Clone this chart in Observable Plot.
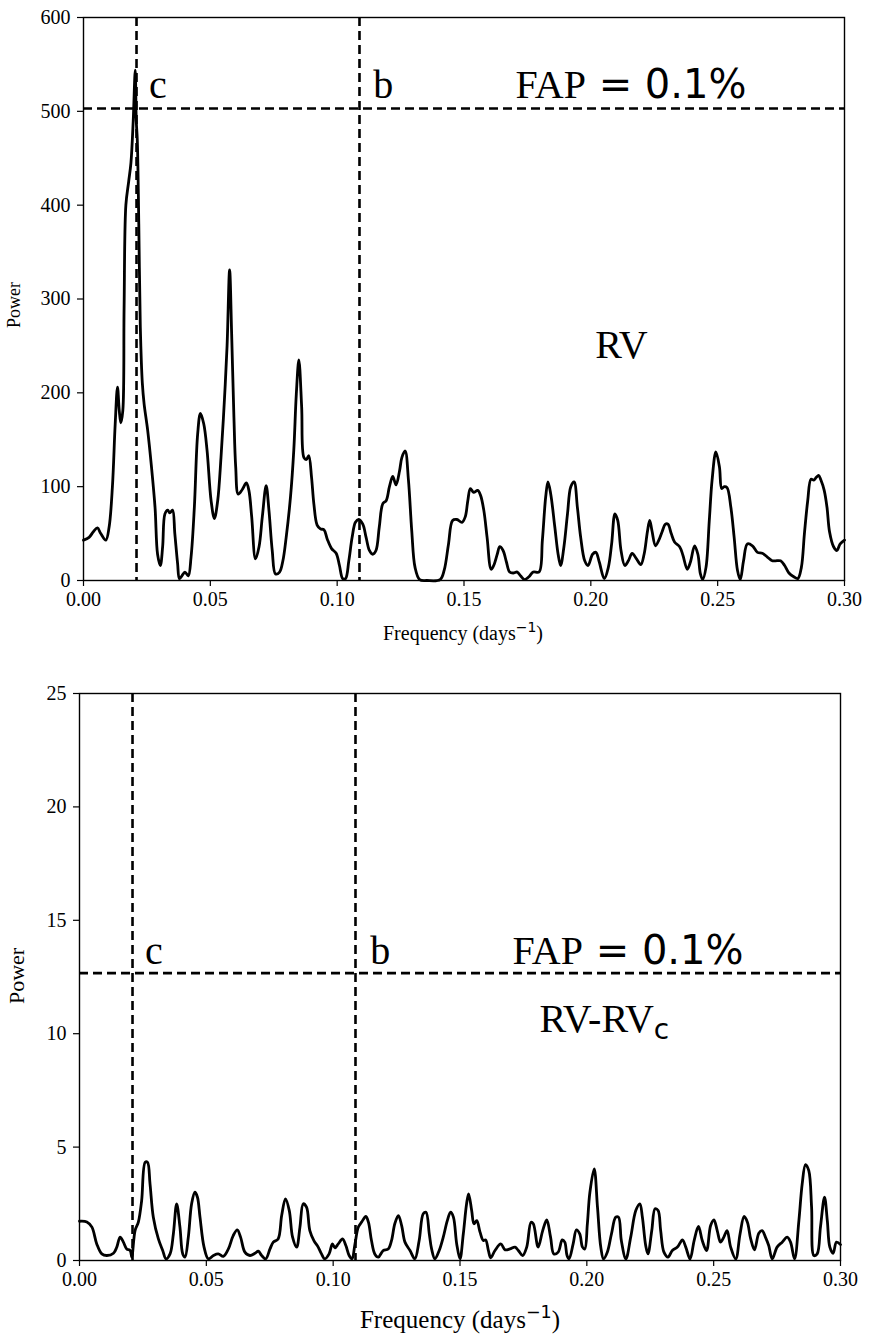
<!DOCTYPE html>
<html><head><meta charset="utf-8">
<script src="https://cdn.jsdelivr.net/npm/d3@7"></script>
<script src="https://cdn.jsdelivr.net/npm/@observablehq/plot@0.6"></script>
<style>
html,body{margin:0;padding:0;background:#fff;}
#chart svg{display:block;}
text{white-space:pre;}
</style></head><body><div id="chart"></div>
<script>
// ---------- DATA ----------
const rvFreq = [0.0000,0.0022,0.0039,0.0055,0.0068,0.0088,0.0101,0.0114,0.0125,0.0134,0.0141,0.0147,0.0155,0.0160,0.0167,0.0178,0.0187,0.0196,0.0204,0.0208,0.0212,0.0218,0.0224,0.0232,0.0239,0.0253,0.0268,0.0282,0.0292,0.0303,0.0312,0.0321,0.0332,0.0340,0.0351,0.0360,0.0371,0.0378,0.0388,0.0400,0.0413,0.0424,0.0437,0.0450,0.0461,0.0474,0.0487,0.0503,0.0516,0.0529,0.0542,0.0555,0.0566,0.0576,0.0584,0.0593,0.0600,0.0610,0.0626,0.0642,0.0652,0.0663,0.0678,0.0692,0.0705,0.0720,0.0731,0.0744,0.0757,0.0773,0.0786,0.0799,0.0816,0.0829,0.0839,0.0849,0.0860,0.0869,0.0879,0.0888,0.0899,0.0908,0.0921,0.0934,0.0948,0.0961,0.0978,0.0996,0.1009,0.1022,0.1033,0.1046,0.1059,0.1072,0.1085,0.1101,0.1114,0.1127,0.1140,0.1153,0.1166,0.1180,0.1193,0.1206,0.1219,0.1232,0.1246,0.1255,0.1268,0.1281,0.1294,0.1307,0.1325,0.1354,0.1406,0.1422,0.1439,0.1455,0.1472,0.1492,0.1505,0.1515,0.1525,0.1538,0.1554,0.1565,0.1578,0.1591,0.1607,0.1617,0.1631,0.1641,0.1654,0.1667,0.1680,0.1694,0.1710,0.1723,0.1739,0.1756,0.1773,0.1796,0.1809,0.1822,0.1831,0.1842,0.1858,0.1871,0.1881,0.1894,0.1908,0.1921,0.1934,0.1947,0.1960,0.1976,0.1989,0.2007,0.2020,0.2033,0.2053,0.2069,0.2082,0.2095,0.2106,0.2119,0.2134,0.2148,0.2163,0.2180,0.2197,0.2210,0.2223,0.2232,0.2241,0.2255,0.2268,0.2281,0.2294,0.2304,0.2317,0.2330,0.2350,0.2363,0.2380,0.2393,0.2409,0.2422,0.2432,0.2441,0.2454,0.2467,0.2478,0.2493,0.2507,0.2516,0.2526,0.2537,0.2552,0.2565,0.2578,0.2589,0.2602,0.2617,0.2637,0.2657,0.2676,0.2696,0.2715,0.2728,0.2748,0.2764,0.2781,0.2800,0.2816,0.2830,0.2842,0.2855,0.2868,0.2879,0.2889,0.2898,0.2907,0.2920,0.2931,0.2941,0.2957,0.2970,0.2983,0.3000];
const rvPower = [43,46,52,56,50,43,57,100,167,206,181,168,181,290,400,425,445,490,544,490,470,380,270,210,188,160,121,78,28,16,36,71,75,72,75,50,18,2,5,9,5,25,78,156,178,167,139,85,66,85,131,190,250,331,263,174,121,92,97,104,96,68,23,36,68,101,75,32,7,9,21,46,89,139,199,235,185,131,129,133,110,82,59,55,54,44,34,29,16,2,2,21,46,62,65,60,46,32,28,32,57,82,85,100,111,102,117,131,138,107,53,14,1,0,1,11,39,64,65,62,68,85,98,94,96,91,75,46,12,16,28,36,32,20,9,8,9,5,1,4,9,9,43,89,105,92,57,28,16,36,71,100,105,78,46,21,16,28,30,20,2,14,39,71,64,32,16,21,29,23,17,28,52,64,53,37,43,52,60,60,50,41,36,27,12,20,37,28,7,1,14,64,107,137,121,98,100,99,78,46,11,1,21,39,37,30,29,25,21,21,21,16,8,4,2,14,50,85,108,107,110,112,107,96,78,52,36,32,39,43];

const resFreq = [0.0000,0.0029,0.0049,0.0068,0.0088,0.0108,0.0134,0.0147,0.0160,0.0173,0.0186,0.0200,0.0206,0.0219,0.0232,0.0245,0.0259,0.0268,0.0278,0.0291,0.0311,0.0328,0.0341,0.0357,0.0370,0.0383,0.0396,0.0407,0.0416,0.0429,0.0442,0.0455,0.0465,0.0475,0.0491,0.0508,0.0528,0.0547,0.0567,0.0587,0.0606,0.0622,0.0635,0.0652,0.0672,0.0692,0.0705,0.0718,0.0734,0.0751,0.0764,0.0783,0.0797,0.0812,0.0827,0.0840,0.0856,0.0869,0.0882,0.0895,0.0908,0.0924,0.0941,0.0954,0.0967,0.0984,0.0997,0.1007,0.1020,0.1037,0.1050,0.1063,0.1074,0.1086,0.1099,0.1112,0.1129,0.1139,0.1151,0.1164,0.1178,0.1197,0.1217,0.1230,0.1243,0.1257,0.1270,0.1283,0.1303,0.1322,0.1339,0.1355,0.1366,0.1379,0.1388,0.1401,0.1418,0.1434,0.1450,0.1463,0.1474,0.1487,0.1500,0.1513,0.1526,0.1534,0.1546,0.1555,0.1566,0.1579,0.1592,0.1601,0.1612,0.1621,0.1638,0.1661,0.1678,0.1697,0.1717,0.1730,0.1747,0.1763,0.1780,0.1789,0.1808,0.1826,0.1842,0.1857,0.1870,0.1887,0.1903,0.1913,0.1922,0.1930,0.1946,0.1959,0.1972,0.1983,0.1992,0.2002,0.2012,0.2029,0.2042,0.2055,0.2066,0.2081,0.2097,0.2114,0.2125,0.2136,0.2154,0.2173,0.2193,0.2209,0.2219,0.2232,0.2241,0.2256,0.2269,0.2281,0.2291,0.2304,0.2320,0.2337,0.2357,0.2377,0.2390,0.2407,0.2423,0.2440,0.2455,0.2472,0.2488,0.2501,0.2514,0.2527,0.2540,0.2553,0.2567,0.2587,0.2604,0.2620,0.2633,0.2646,0.2661,0.2678,0.2691,0.2704,0.2717,0.2731,0.2750,0.2770,0.2790,0.2803,0.2819,0.2836,0.2849,0.2862,0.2875,0.2886,0.2895,0.2908,0.2921,0.2937,0.2948,0.2958,0.2971,0.2984,0.3000];
const resPower = [1.73,1.70,1.47,0.73,0.29,0.22,0.32,0.59,1.03,0.81,0.51,0.44,0.15,1.32,1.69,2.64,4.33,4.33,3.38,1.91,0.95,0.44,0.07,0.29,1.17,2.50,1.47,0.29,0.15,1.03,2.50,3.01,2.79,1.91,0.59,0.07,0.22,0.29,0.18,0.51,1.10,1.35,1.03,0.37,0.22,0.32,0.41,0.22,0.07,0.51,0.81,0.95,1.98,2.72,2.20,1.03,0.59,1.47,2.50,2.35,1.32,0.88,0.59,0.29,0.07,0.29,0.73,0.56,0.73,0.95,0.66,0.22,0.07,0.73,1.47,1.69,1.94,1.69,0.88,0.29,0.15,0.44,0.51,0.88,1.62,1.98,1.54,0.81,0.44,0.07,0.88,2.06,2.13,1.17,0.51,0.07,0.44,1.03,1.76,2.13,1.91,0.73,0.07,1.17,2.50,2.94,2.20,1.62,1.76,1.25,0.88,0.91,0.44,0.12,0.44,0.73,0.47,0.51,0.59,0.44,0.22,0.59,1.69,1.62,0.59,1.32,1.79,1.03,0.29,0.37,0.91,0.81,0.22,0.07,0.73,1.35,1.17,0.59,0.51,1.60,3.00,4.04,2.35,0.59,0.07,0.37,1.17,1.91,1.91,0.88,0.07,1.03,2.20,2.50,1.91,0.66,0.29,1.32,2.28,2.20,1.32,0.37,0.15,0.44,0.59,0.91,0.59,0.07,0.88,1.50,0.88,0.44,1.54,1.79,1.32,0.81,1.03,1.32,0.59,0.07,1.17,1.94,1.69,0.95,0.47,1.20,1.32,1.03,0.66,0.07,0.59,0.81,1.03,0.81,0.07,1.76,3.38,4.23,3.96,2.35,0.22,0.29,1.47,2.79,1.76,0.59,0.32,0.81,0.70];

const xTicks = [0, 0.05, 0.10, 0.15, 0.20, 0.25, 0.30];
const rvYTicks = [0, 100, 200, 300, 400, 500, 600];
const resYTicks = [0, 5, 10, 15, 20, 25];
const planetFreq = [0.0209, 0.1088];
const planetNames = ["c", "b"];
const rvFAP = 503;
const resFAP = 12.67;
const fapLabel = "FAP = 0.1%";
const rvLabel = "RV";
const resLabel = "RV-RVc";
const xLabel = "Frequency (days";
const yLabel = "Power";

// annotation anchor positions (data units)
const rvPlanetLabelX = [0.0258, 0.1142];
const rvPlanetLabelY = 528;
const rvFapX = 0.1703, rvFapY = 528;
const rvLabelX = 0.2121, rvLabelY = 251;
const resPlanetLabelX = [0.0258, 0.1146];
const resPlanetLabelY = 13.66;
const resFapX = 0.1707, resFapY = 13.66;
const resLabelX = 0.1813, resLabelY = 10.63;

const SERIF = "'Liberation Serif', 'Times New Roman', serif";
const SANS = "'DejaVu Sans', sans-serif";
const DASH = "9,5";

function rows(fs, ps) { return fs.map((f, i) => ({f, p: ps[i]})); }

function panel(o) {
  const svg = Plot.plot({
    width: 869, height: o.height,
    marginTop: o.mt, marginBottom: o.mb, marginLeft: o.ml, marginRight: o.mr,
    style: `font-family: ${SERIF}; font-size: ${o.tickFont}px; color: black; background: white;`,
    x: {domain: [0, 0.3]},
    y: {domain: o.ydomain},
    marks: [
      Plot.axisX({ticks: xTicks, tickFormat: d3.format(".2f"), tickSize: 6, tickPadding: 5, label: null,
        fontFamily: SERIF, fontSize: o.tickFont, fill: "black", stroke: "black", strokeWidth: 1.2}),
      Plot.axisY({ticks: o.yticks, tickSize: 6, tickPadding: 7, label: null,
        fontFamily: SERIF, fontSize: o.tickFont, fill: "black", stroke: "black", strokeWidth: 1.2}),
      Plot.ruleX(planetFreq, {x: d => d, stroke: "black", strokeWidth: 2.6, strokeDasharray: DASH}),
      Plot.ruleY([o.fap], {y: d => d, stroke: "black", strokeWidth: 2.6, strokeDasharray: DASH}),
      Plot.line(rows(o.fs, o.ps), {x: "f", y: "p", stroke: "black", strokeWidth: 2.8, curve: "catmull-rom", strokeLinejoin: "round"}),
      Plot.frame({stroke: "black", strokeWidth: 1.4}),
      Plot.text(planetNames, {x: (d, i) => o.plx[i], y: () => o.ply, text: d => d, textAnchor: "start", lineAnchor: "middle", fontFamily: SERIF, fontSize: 40, fill: "black"}),
      Plot.text([fapLabel], {x: () => o.fapX, y: () => o.fapY, text: d => d, textAnchor: "start", lineAnchor: "middle", fontFamily: SERIF, fontSize: 40, fill: "black"}),
      Plot.text([o.label], {x: () => o.lx, y: () => o.ly, text: d => d, textAnchor: o.lanchor, lineAnchor: "middle", fontFamily: SERIF, fontSize: 40, fill: "black"})
    ]
  });
  const s = d3.select(svg);
  // force serif tick labels on every numeric text
  s.selectAll("text").filter(function() { return /^[0-9.\u2212-]+$/.test(this.textContent.trim()); })
    .attr("font-family", SERIF).attr("font-size", o.tickFont)
    .style("font-family", SERIF).style("font-size", o.tickFont + "px");
  s.selectAll("text").filter(function() { return this.textContent === fapLabel; }).each(function() {
    const t = d3.select(this); t.text("");
    t.append("tspan").text("FAP");
    t.append("tspan").attr("font-family", SANS).text(" = 0.1%");
  });
  s.selectAll("text").filter(function() { return this.textContent === "RV-RVc"; }).each(function() {
    const t = d3.select(this); t.text("");
    t.append("tspan").text("RV-RV");
    t.append("tspan").attr("font-family", SANS).attr("font-size", 28).attr("dy", 7).text("c");
  });
  // x axis label with superscript
  const xl = s.append("text").attr("x", o.xlx).attr("y", o.xly).attr("text-anchor", "middle")
    .attr("font-family", SERIF).attr("font-size", o.xlSize).attr("fill", "black");
  xl.append("tspan").text(xLabel);
  xl.append("tspan").attr("font-family", SANS).attr("font-size", o.xlSize * 0.7).attr("dy", -o.xlSize * 0.4).text("\u22121");
  xl.append("tspan").attr("dy", o.xlSize * 0.4).text(")");
  // y axis label
  s.append("text").attr("transform", `translate(${o.ylx},${o.yly}) rotate(-90)`).attr("text-anchor", "middle")
    .attr("font-family", SERIF).attr("font-size", o.ylSize).attr("fill", "black").text(yLabel);
  return svg;
}

const chart = document.getElementById("chart");
chart.appendChild(panel({
  height: 650, mt: 17, mb: 70, ml: 83, mr: 25,
  ydomain: [0, 600], yticks: rvYTicks, fap: rvFAP, fs: rvFreq, ps: rvPower,
  plx: rvPlanetLabelX, ply: rvPlanetLabelY, fapX: rvFapX, fapY: rvFapY,
  label: rvLabel, lx: rvLabelX, ly: rvLabelY, lanchor: "middle",
  tickFont: 20, xlx: 463, xly: 640, xlSize: 20, ylx: 20, yly: 305, ylSize: 18
}));
chart.appendChild(panel({
  height: 686, mt: 43, mb: 76, ml: 79, mr: 29,
  ydomain: [0, 25], yticks: resYTicks, fap: resFAP, fs: resFreq, ps: resPower,
  plx: resPlanetLabelX, ply: resPlanetLabelY, fapX: resFapX, fapY: resFapY,
  label: resLabel, lx: resLabelX, ly: resLabelY, lanchor: "start",
  tickFont: 20, xlx: 460, xly: 678, xlSize: 25, ylx: 24, yly: 326, ylSize: 22
}));
</script></body></html>
